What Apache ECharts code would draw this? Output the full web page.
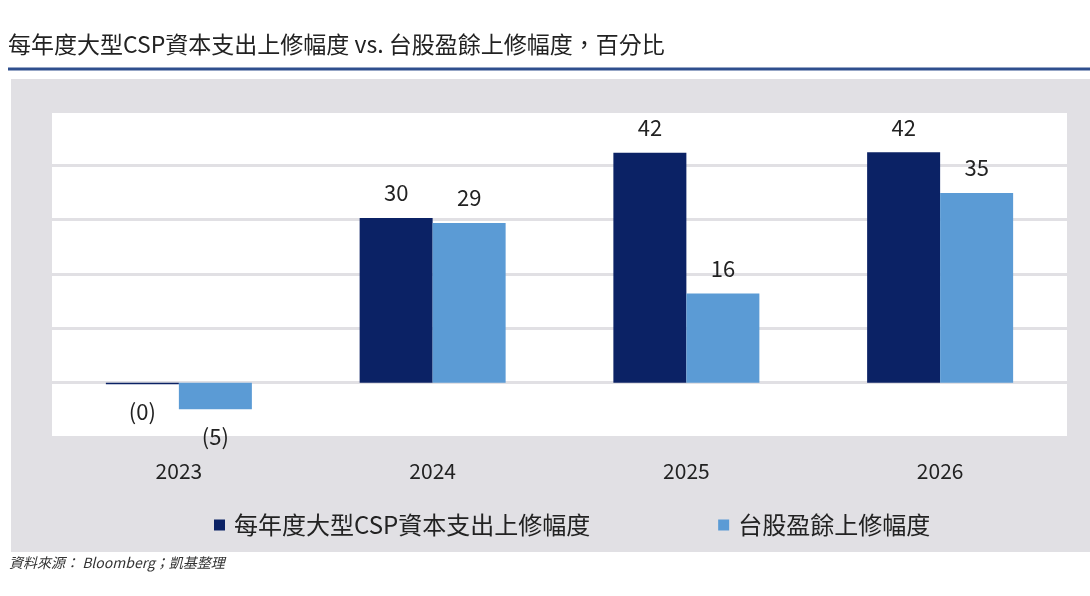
<!DOCTYPE html>
<html>
<head>
<meta charset="utf-8">
<script src="https://cdn.jsdelivr.net/npm/echarts@6/dist/echarts.min.js"></script>
<style>
html,body{margin:0;padding:0;background:#fff;}
#main{width:1090px;height:596px;}
</style>
</head>
<body>
<div id="main"></div>
<script>
const titleText = '每年度大型CSP資本支出上修幅度 vs. 台股盈餘上修幅度，百分比';
const sourceText = '資料來源： Bloomberg；凱基整理';
const categories = ['2023', '2024', '2025', '2026'];
const seriesNames = ['每年度大型CSP資本支出上修幅度', '台股盈餘上修幅度'];
const capexRevision = [-0.3, 30.3, 42.3, 42.4];
const twEpsRevision = [-4.9, 29.4, 16.4, 34.9];
const yTicks = [-10, 0, 10, 20, 30, 40, 50];

const FONT = '"Noto Sans CJK TC", "Noto Sans", sans-serif';

function fmt(v) {
  return v < 0 ? '(' + Math.abs(Math.round(v)) + ')' : String(Math.round(v));
}
function toData(arr) {
  return arr.map(v => ({
    value: v,
    label: { position: v < 0 ? 'bottom' : 'top', distance: v < 0 ? 16 : 14 }
  }));
}

const chart = echarts.init(document.getElementById('main'), null, { renderer: 'canvas' });
chart.setOption({
  backgroundColor: '#ffffff',
  animation: false,
  textStyle: { fontFamily: FONT },
  graphic: [
    { type: 'rect', z: -10, shape: { x: 11, y: 79, width: 1079, height: 473 }, style: { fill: '#e1e0e4' } },
    { type: 'line', shape: { x1: 8, y1: 69, x2: 1090, y2: 69 }, style: { stroke: '#2f4f8e', lineWidth: 3 } },
    { type: 'text', left: 8, top: 33, style: { text: titleText, font: '23px ' + FONT, fill: '#222' } },
    { type: 'text', left: 9, top: 556, style: { text: sourceText, font: 'italic 14px ' + FONT, fill: '#333' } }
  ],
  grid: {
    left: 52, right: 23, top: 111, bottom: 159,
    show: true, backgroundColor: '#ffffff', borderWidth: 0
  },
  legend: {
    left: 209, top: 508,
    itemWidth: 11, itemHeight: 11, itemGap: 128,
    icon: 'rect',
    textStyle: { fontSize: 24, color: '#222', fontFamily: FONT, padding: [0, 0, 0, 4] },
    data: seriesNames
  },
  xAxis: {
    type: 'category',
    data: categories,
    axisLine: { show: false },
    axisTick: { show: false },
    axisLabel: { fontSize: 21, color: '#222', margin: 24, fontFamily: FONT }
  },
  yAxis: {
    type: 'value',
    min: yTicks[0], max: yTicks[yTicks.length - 1], interval: 10,
    axisLabel: { show: false },
    axisLine: { show: false },
    axisTick: { show: false },
    splitLine: { lineStyle: { color: '#e1e0e4', width: 3 } }
  },
  series: [
    {
      name: seriesNames[0], type: 'bar', data: toData(capexRevision),
      barWidth: 73, barGap: '0%',
      itemStyle: { color: '#0b2265' },
      label: { show: true, fontSize: 22, color: '#222', fontFamily: FONT, formatter: p => fmt(p.value) }
    },
    {
      name: seriesNames[1], type: 'bar', data: toData(twEpsRevision),
      barWidth: 73, barGap: '0%',
      itemStyle: { color: '#5b9bd5' },
      label: { show: true, fontSize: 22, color: '#222', fontFamily: FONT, formatter: p => fmt(p.value) }
    }
  ]
});
</script>
</body>
</html>
